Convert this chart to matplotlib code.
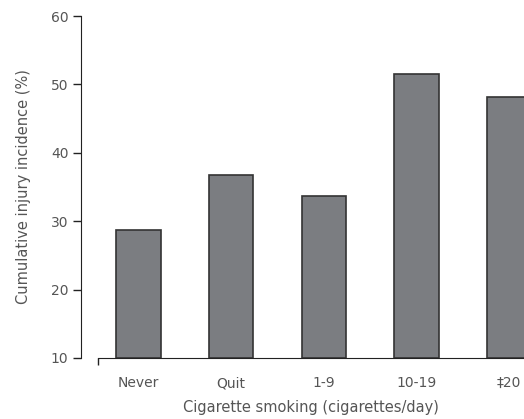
import matplotlib.pyplot as plt

# bar values
groups = ['Never', 'Quit', '1-9', '10-19', '‡20']
incidence = [28.7, 36.8, 33.7, 51.5, 48.2]
y_ticks = [10, 20, 30, 40, 50, 60]

plt.rcParams['font.family'] = ['DejaVu Sans']
txt = '#555555'

fig = plt.figure(figsize=(5.24, 4.19), dpi=100)
ax = fig.add_axes([0.187, 0.1456, 0.813, 0.8162])

x = list(range(len(groups)))
ax.bar(x, [v - 10 for v in incidence], bottom=10, width=0.48,
       color='#7b7d81', edgecolor='#333333', linewidth=1.2)

ax.set_xlim(-0.437, 4.16)
ax.set_ylim(10, 60)

for s in ['top', 'right']:
    ax.spines[s].set_visible(False)
ax.spines['left'].set_position(('outward', 12.2))
ax.spines['left'].set_color('#222222')
ax.spines['bottom'].set_color('#222222')

ax.set_yticks(y_ticks)
ax.tick_params(axis='y', length=6, width=1, colors='#222222', labelcolor=txt,
               labelsize=10, pad=3)
ax.set_xticks(x)
ax.set_xticklabels(groups)
ax.tick_params(axis='x', which='major', length=0, labelcolor=txt,
               labelsize=10, pad=13)
# little tick at the start of the x axis
ax.set_xticks([-0.437], minor=True)
ax.tick_params(axis='x', which='minor', length=5, width=1, colors='#222222')

ax.set_xlabel('Cigarette smoking (cigarettes/day)', color=txt, fontsize=10.5,
              labelpad=7)
ax.set_ylabel('Cumulative injury incidence (%)', color=txt, fontsize=10.5,
              labelpad=14)

fig.savefig('out.png', dpi=100)
